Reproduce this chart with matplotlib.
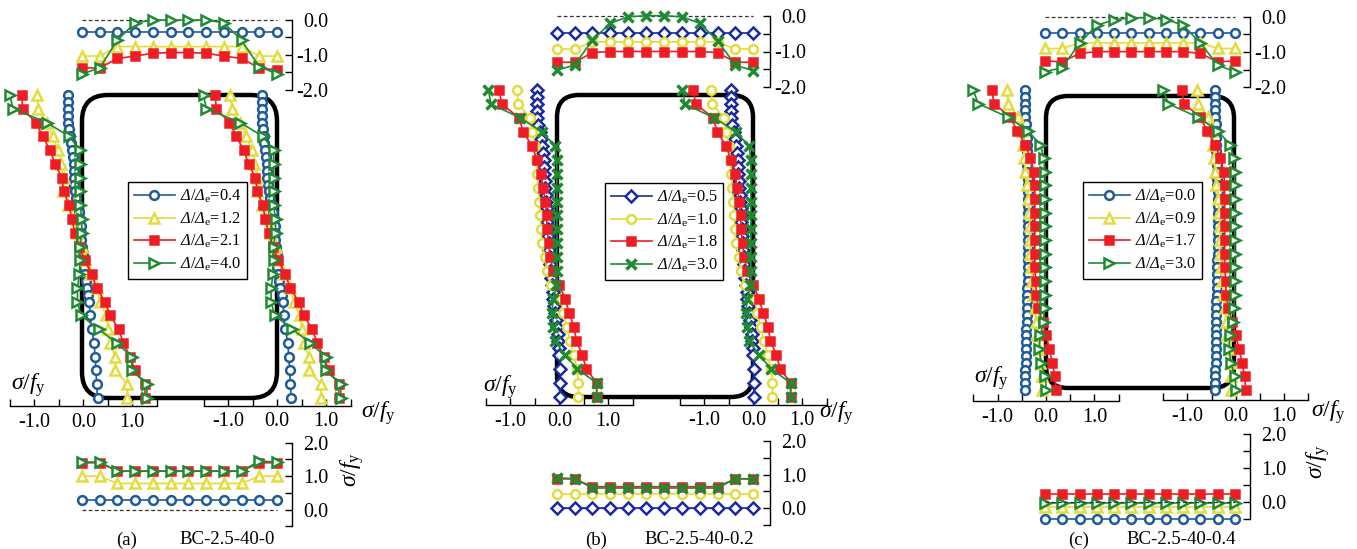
import numpy as np
import matplotlib
matplotlib.use('Agg')
import matplotlib.pyplot as plt
from matplotlib.patches import FancyBboxPatch

plt.rcParams['font.family'] = ['Liberation Serif', 'DejaVu Serif']
plt.rcParams['mathtext.fontset'] = 'custom'
plt.rcParams['mathtext.rm'] = 'Liberation Serif'
plt.rcParams['mathtext.it'] = 'Liberation Serif:italic'
plt.rcParams['mathtext.sf'] = 'Liberation Serif:italic'
plt.rcParams['axes.unicode_minus'] = False

# ---------------- DATA ----------------
flange_pos = np.arange(12)          # measuring points along a flange
web_pos = np.arange(23)             # measuring points along a web (top -> bottom)
# the first series is measured at a finer spacing along (part of) the web
web_pos_fine_a = np.concatenate([np.arange(0, 15, 0.5), np.arange(15, 23)])
web_pos_fine_b = np.concatenate([np.arange(0, 19, 0.5), np.arange(19, 23)])
web_pos_fine_c = np.arange(0, 22.5, 0.5)

tick_major_flange_top = [0.0, -1.0, -2.0]
tick_minor_flange_top = [-0.5, -1.5]
tick_major_flange_bot = [2.0, 1.0, 0.0]
tick_minor_flange_bot = [1.5, 0.5, -0.5]
tick_major_web = [-1.0, 0.0, 1.0]
tick_minor_web = [-1.5, -0.5, 0.5, 1.5]

# ---- (a) BC-2.5-40-0 ----
labels_a = ['0.4', '1.2', '2.1', '4.0']
top_a_1 = [-0.33, -0.33, -0.33, -0.33, -0.33, -0.33, -0.33, -0.33, -0.33, -0.33, -0.33, -0.33]
top_a_2 = [-1.03, -1.03, -0.76, -0.76, -0.76, -0.76, -0.76, -0.76, -0.76, -0.76, -1.03, -1.03]
top_a_3 = [-1.37, -1.37, -1.10, -1.03, -0.95, -0.93, -0.93, -0.95, -1.03, -1.10, -1.37, -1.43]
top_a_4 = [-1.54, -1.37, -0.57, -0.08, 0.00, 0.00, 0.00, 0.00, -0.08, -0.58, -1.33, -1.54]
bot_a_1 = [0.28, 0.28, 0.28, 0.28, 0.28, 0.28, 0.28, 0.28, 0.28, 0.28, 0.28, 0.28]
bot_a_2 = [1.00, 1.00, 0.78, 0.78, 0.78, 0.78, 0.78, 0.78, 0.78, 0.78, 1.00, 1.00]
bot_a_3 = [1.40, 1.40, 1.15, 1.15, 1.15, 1.15, 1.15, 1.15, 1.15, 1.15, 1.40, 1.40]
bot_a_4 = [1.42, 1.42, 1.15, 1.15, 1.15, 1.15, 1.15, 1.15, 1.15, 1.15, 1.45, 1.42]
web_a_1 = [-0.31, -0.31, -0.31, -0.31, -0.31, -0.29, -0.27, -0.26, -0.24, -0.22,
           -0.20, -0.20, -0.20, -0.19, -0.17, -0.15, -0.10, -0.09, -0.07, -0.05,
           -0.05, -0.04, -0.03, -0.01, 0.00, 0.01, 0.03, 0.05, 0.07, 0.10,
           0.12, 0.14, 0.17, 0.22, 0.24, 0.26, 0.27, 0.29]
web_a_2 = [-0.95, -0.92, -0.75, -0.63, -0.51, -0.46, -0.40, -0.41, -0.31, -0.17, -0.14, -0.03,
           0.03, 0.14, 0.27, 0.34, 0.46, 0.51, 0.55, 0.65, 0.65, 0.90, 0.90]
web_a_3 = [-1.26, -1.24, -0.97, -0.83, -0.68, -0.58, -0.44, -0.40, -0.29, -0.24, -0.17, -0.09,
           0.03, 0.17, 0.27, 0.44, 0.55, 0.72, 0.82, 0.95, 1.06, 1.26, 1.26]
web_a_4 = [-1.50, -1.44, -0.75, -0.29, -0.07, -0.07, -0.07, -0.07, -0.07, -0.03, -0.03, -0.07,
           -0.07, -0.08, -0.12, -0.12, -0.05, 0.31, 0.68, 0.99, 0.99, 1.30, 1.30]

# ---- (b) BC-2.5-40-0.2 ----
labels_b = ['0.5', '1.0', '1.8', '3.0']
top_b_1 = [-0.49, -0.49, -0.49, -0.49, -0.49, -0.49, -0.49, -0.49, -0.49, -0.49, -0.49, -0.49]
top_b_2 = [-0.93, -0.93, -0.73, -0.73, -0.73, -0.73, -0.73, -0.73, -0.73, -0.73, -0.93, -0.93]
top_b_3 = [-1.30, -1.30, -1.03, -1.00, -1.00, -1.00, -1.00, -1.00, -1.00, -1.03, -1.30, -1.30]
top_b_4 = [-1.52, -1.38, -0.68, -0.21, -0.03, 0.00, 0.00, -0.03, -0.21, -0.70, -1.38, -1.54]
bot_b_1 = [0.00, 0.00, 0.00, 0.00, 0.00, 0.00, 0.00, 0.00, 0.00, 0.00, 0.00, 0.00]
bot_b_2 = [0.42, 0.42, 0.42, 0.42, 0.42, 0.42, 0.42, 0.42, 0.42, 0.42, 0.42, 0.42]
bot_b_3 = [0.87, 0.87, 0.64, 0.64, 0.64, 0.64, 0.64, 0.64, 0.64, 0.64, 0.87, 0.87]
bot_b_4 = [0.90, 0.88, 0.60, 0.60, 0.60, 0.60, 0.60, 0.60, 0.60, 0.60, 0.88, 0.87]
web_b_1 = [-0.46, -0.46, -0.46, -0.46, -0.46, -0.43, -0.39, -0.37, -0.36, -0.34,
           -0.32, -0.31, -0.31, -0.30, -0.29, -0.28, -0.27, -0.26, -0.26, -0.25,
           -0.24, -0.23, -0.22, -0.21, -0.20, -0.20, -0.19, -0.18, -0.16, -0.14,
           -0.12, -0.10, -0.09, -0.07, -0.05, -0.03, -0.02, -0.01,
           0.00, 0.01, 0.01, 0.01]
web_b_2 = [-0.86, -0.84, -0.60, -0.55, -0.50, -0.47, -0.45, -0.43, -0.41, -0.39, -0.38, -0.35,
           -0.30, -0.25, -0.18, 0.03, 0.08, 0.15, 0.22, 0.29, 0.36, 0.39, 0.39]
web_b_3 = [-1.23, -1.18, -0.82, -0.74, -0.56, -0.46, -0.38, -0.33, -0.29, -0.26, -0.25, -0.22,
           -0.19, -0.12, 0.00, 0.12, 0.20, 0.30, 0.35, 0.47, 0.55, 0.76, 0.77]
web_b_4 = [-1.45, -1.40, -0.80, -0.36, -0.09, -0.05, -0.05, -0.05, -0.05, -0.05, -0.05, -0.05,
           -0.05, -0.05, -0.06, -0.12, -0.16, -0.12, -0.09, 0.12, 0.36, 0.76, 0.76]

# ---- (c) BC-2.5-40-0.4 ----
labels_c = ['0.0', '0.9', '1.7', '3.0']
top_c_1 = [-0.45, -0.45, -0.45, -0.45, -0.45, -0.45, -0.45, -0.45, -0.45, -0.45, -0.45, -0.45]
top_c_2 = [-0.90, -0.90, -0.74, -0.74, -0.74, -0.74, -0.74, -0.74, -0.74, -0.74, -0.90, -0.90]
top_c_3 = [-1.25, -1.28, -1.04, -0.99, -0.99, -0.99, -0.99, -0.99, -0.99, -1.04, -1.28, -1.25]
top_c_4 = [-1.56, -1.44, -0.75, -0.24, -0.09, -0.03, -0.03, -0.08, -0.24, -0.75, -1.37, -1.56]
bot_c_1 = [-0.52, -0.52, -0.52, -0.52, -0.52, -0.52, -0.52, -0.52, -0.52, -0.52, -0.52, -0.52]
bot_c_2 = [-0.15, -0.15, -0.15, -0.15, -0.15, -0.15, -0.15, -0.15, -0.15, -0.15, -0.15, -0.15]
bot_c_3 = [0.23, 0.23, 0.23, 0.23, 0.23, 0.23, 0.23, 0.23, 0.23, 0.23, 0.23, 0.23]
bot_c_4 = [-0.03, -0.03, -0.03, -0.03, -0.03, -0.03, -0.03, -0.03, -0.03, -0.03, -0.03, -0.03]
web_c_1 = [-0.43, -0.43, -0.43, -0.43, -0.43,
           -0.42, -0.41, -0.40, -0.40, -0.40,
           -0.40, -0.39, -0.39, -0.38, -0.38,
           -0.37, -0.37, -0.37, -0.37, -0.37,
           -0.37, -0.37, -0.37, -0.37, -0.37,
           -0.38, -0.38, -0.38, -0.38, -0.39,
           -0.39, -0.40, -0.40, -0.40, -0.40,
           -0.41, -0.41, -0.42, -0.42, -0.42,
           -0.42, -0.43, -0.43, -0.43, -0.43]
web_c_2 = [-0.81, -0.78, -0.57, -0.50, -0.47, -0.45, -0.43, -0.40, -0.37, -0.35, -0.33, -0.33,
           -0.32, -0.30, -0.28, -0.26, -0.23, -0.21, -0.18, -0.14, -0.12, -0.09, -0.09]
web_c_3 = [-1.12, -1.07, -0.74, -0.59, -0.43, -0.32, -0.25, -0.23, -0.23, -0.23, -0.23, -0.23,
           -0.23, -0.23, -0.21, -0.20, -0.16, -0.07, 0.00, 0.07, 0.13, 0.18, 0.21]
web_c_4 = [-1.50, -1.40, -0.78, -0.37, -0.12, -0.04, -0.02, -0.02, -0.02, -0.02, -0.02, -0.02,
           -0.02, -0.02, -0.02, -0.02, -0.03, -0.05, -0.12, -0.14, -0.10, -0.02, 0.01]

captions = [('(a)', 'BC-2.5-40-0'), ('(b)', 'BC-2.5-40-0.2'), ('(c)', 'BC-2.5-40-0.4')]

# ---------------- STYLE / LAYOUT ----------------
C_BLUE = '#1f5b96'
C_NAVY = '#1c2b9c'
C_YEL = '#e2dc3c'
C_RED = '#ee1c24'
C_GRN = '#1f8a32'

styles_a = [(C_BLUE, 'o', 6.3), (C_YEL, '^', 7.8), (C_RED, 's', 6.4), (C_GRN, '>', 7.8)]
styles_b = [(C_NAVY, 'D', 5.8), (C_YEL, 'o', 6.3), (C_RED, 's', 6.4), (C_GRN, 'x', 7.8)]
styles_c = styles_a

W, H = 1357, 549
fig = plt.figure(figsize=(W / 100, H / 100), dpi=100)

bg = fig.add_axes([0, 0, 1, 1])
bg.set_xlim(0, W)
bg.set_ylim(H, 0)
bg.axis('off')

TICK_FS = 14.5
SIG_FS = 17


def px_axes(x0, y0, x1, y1):
    ax = fig.add_axes([x0 / W, 1 - y1 / H, (x1 - x0) / W, (y1 - y0) / H])
    ax.patch.set_visible(False)
    for s in ax.spines.values():
        s.set_visible(False)
    return ax


def kw(style):
    color, marker, ms = style
    d = dict(color=color, marker=marker, markersize=ms, markeredgecolor=color,
             markeredgewidth=1.8, lw=1.2, clip_on=False)
    d['markerfacecolor'] = color if marker == 's' else 'white'
    if marker == 'x':
        d['markeredgewidth'] = 2.5
    return d


def fmt(v):
    return '%.1f' % v


def flange(series, styles, xl, xr, spine_x, ytop, ybot, vlim, major, minor, dash_top=False):
    ax = px_axes(xl, ytop, spine_x, ybot)
    n = len(flange_pos)
    ax.set_xlim(0, (n - 1) * (spine_x - xl) / (xr - xl))
    ax.set_ylim(*vlim)
    ax.plot([flange_pos[0], flange_pos[-1]], [0, 0], ls=(0, (3, 2)), color='#333333', lw=0.9,
            zorder=5 if dash_top else 1, clip_on=False)
    for vals, st in zip(series, styles):
        ax.plot(flange_pos, vals, zorder=3, **kw(st))
    ax.spines['right'].set_visible(True)
    ax.spines['right'].set_linewidth(1.0)
    ax.xaxis.set_visible(False)
    ax.yaxis.tick_right()
    ax.set_yticks(major)
    ax.set_yticks(minor, minor=True)
    ax.set_yticklabels([fmt(v) for v in major])
    ax.tick_params(axis='y', which='both', direction='in', length=5, width=1.0,
                   labelsize=TICK_FS, pad=26)
    for t in ax.yaxis.get_major_ticks():
        t.label2.set_horizontalalignment('right')
    return ax


def web(series, styles, x_lo, x_hi, ytop, ybot, yaxis):
    ax = px_axes(x_lo, ytop, x_hi, yaxis)
    n = len(web_pos)
    ax.set_xlim(-1.5, 1.5)
    ax.set_ylim((n - 1) + (n - 1) * (yaxis - ybot) / (ybot - ytop), 0)
    lines = []
    for (pos, vals), st in zip(series, styles):
        ln, = ax.plot(vals, pos, zorder=3, **kw(st))
        lines.append(ln)
    ax.spines['bottom'].set_visible(True)
    ax.spines['bottom'].set_linewidth(1.0)
    ax.yaxis.set_visible(False)
    ax.set_xticks(tick_major_web)
    ax.set_xticks(tick_minor_web, minor=True)
    ax.set_xticklabels([fmt(v) for v in tick_major_web])
    ax.tick_params(axis='x', which='both', direction='in', length=5, width=1.0,
                   labelsize=TICK_FS, pad=5)
    return ax, lines


panels = [
    dict(top=[top_a_1, top_a_2, top_a_3, top_a_4], bot=[bot_a_1, bot_a_2, bot_a_3, bot_a_4],
         web=[(web_pos_fine_a, web_a_1), (web_pos, web_a_2), (web_pos, web_a_3), (web_pos, web_a_4)],
         labels=labels_a, styles=styles_a,
         sec=(82, 95, 277, 398), r=26, fx=(82, 277), spine=292,
         top_y=(20, 90), bot_y=(442.7, 526.3),
         lweb=(10, 156.7), rweb=(203.5, 350.5), wy=(95, 398, 406),
         leg=(128, 182), sig_l=(28, 385), sig_r=(378, 413), sig_b=(352, 470), cap=(127, 227),
         dash_bot_top=False),
    dict(top=[top_b_1, top_b_2, top_b_3, top_b_4], bot=[bot_b_1, bot_b_2, bot_b_3, bot_b_4],
         web=[(web_pos_fine_b, web_b_1), (web_pos, web_b_2), (web_pos, web_b_3), (web_pos, web_b_4)],
         labels=labels_b, styles=styles_b,
         sec=(557, 95, 753, 397), r=22, fx=(556.7, 753.3), spine=770,
         top_y=(15.7, 87.3), bot_y=(440.7, 525.2),
         lweb=(486, 632.7), rweb=(680, 826.7), wy=(90, 396.7, 405),
         leg=(605, 183), sig_l=(500, 387), sig_r=(836, 413), sig_b=None, cap=(596, 699),
         dash_bot_top=False),
    dict(top=[top_c_1, top_c_2, top_c_3, top_c_4], bot=[bot_c_1, bot_c_2, bot_c_3, bot_c_4],
         web=[(web_pos_fine_c, web_c_1), (web_pos, web_c_2), (web_pos, web_c_3), (web_pos, web_c_4)],
         labels=labels_c, styles=styles_c,
         sec=(1046, 96, 1234, 388), r=22, fx=(1045, 1235), spine=1250,
         top_y=(16.7, 87.3), bot_y=(434, 518.6),
         lweb=(973.3, 1118.7), rweb=(1163.3, 1308.3), wy=(90, 390, 400.7),
         leg=(1083, 182), sig_l=(991, 378), sig_r=(1328, 412), sig_b=(1318, 462), cap=(1079, 1181),
         dash_bot_top=True),
]

SIG = r'$\mathit{\sigma}/\mathit{f}_\mathrm{y}$'

for p, cap in zip(panels, captions):
    x0, y0, x1, y1 = p['sec']
    r = p['r']
    bg.add_patch(FancyBboxPatch((x0 + r, y0 + r), (x1 - x0) - 2 * r, (y1 - y0) - 2 * r,
                                boxstyle='round,pad=%g' % r, fc='none', ec='black', lw=3.2,
                                zorder=1))
    # flanges
    flange(p['top'], p['styles'], p['fx'][0], p['fx'][1], p['spine'], p['top_y'][0], p['top_y'][1],
           (-2.0, 0.0), tick_major_flange_top, tick_minor_flange_top)
    flange(p['bot'], p['styles'], p['fx'][0], p['fx'][1], p['spine'], p['bot_y'][0], p['bot_y'][1],
           (-0.5, 2.0), tick_major_flange_bot, tick_minor_flange_bot, dash_top=p['dash_bot_top'])
    # webs
    wt, wb, wa = p['wy']
    axl, lines = web(p['web'], p['styles'], p['lweb'][0], p['lweb'][1], wt, wb, wa)
    web(p['web'], p['styles'], p['rweb'][0], p['rweb'][1], wt, wb, wa - 0.5)
    # legend
    labs = [r'$\mathsf{Δ}/\mathsf{Δ}_\mathrm{e}$=' + s for s in p['labels']]
    fig.legend(lines, labs, loc='upper left',
               bbox_to_anchor=(p['leg'][0] / W, 1 - p['leg'][1] / H),
               bbox_transform=fig.transFigure, frameon=True, fancybox=False,
               edgecolor='black', framealpha=1, fontsize=11.8, handlelength=2.5,
               handletextpad=0.3, labelspacing=0.32, borderpad=0.35, borderaxespad=0)
    # labels
    bg.text(p['sig_l'][0], p['sig_l'][1], SIG, fontsize=SIG_FS, ha='center', va='center')
    bg.text(p['sig_r'][0], p['sig_r'][1], SIG, fontsize=SIG_FS, ha='center', va='center')
    if p['sig_b'] is not None:
        bg.text(p['sig_b'][0], p['sig_b'][1], SIG, fontsize=SIG_FS, ha='center', va='center',
                rotation=90)
    bg.text(p['cap'][0], 540, cap[0], fontsize=13.5, ha='center', va='center')
    bg.text(p['cap'][1], 540, cap[1], fontsize=13.5, ha='center', va='center')

fig.savefig('out.png', dpi=100)
